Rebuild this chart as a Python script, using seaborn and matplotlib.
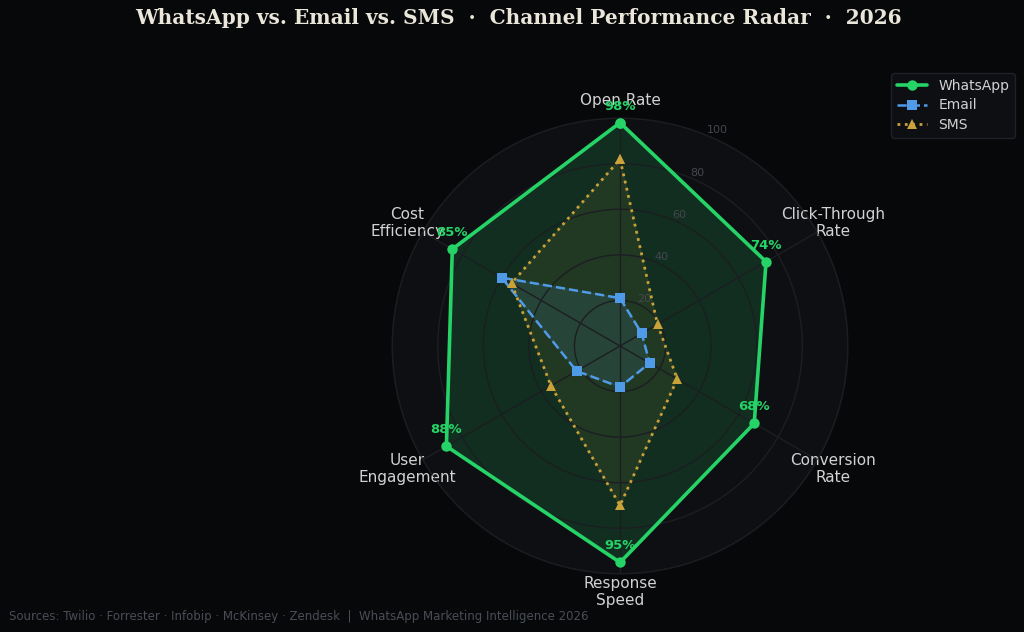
import numpy as np
import seaborn as sns
import matplotlib.pyplot as plt

# channel metrics (0-100 scale)
metrics = ["Open Rate", "Click-Through\nRate", "Conversion\nRate",
           "Response\nSpeed", "User\nEngagement", "Cost\nEfficiency"]
whatsapp = [98, 74, 68, 95, 88, 85]
email = [21, 11, 15, 18, 22, 60]
sms = [82, 19, 29, 70, 35, 55]
rticks = [20, 40, 60, 80, 100]

BG = "#07080a"
PANEL = "#0e0f13"
GRID = "#1c1e22"
TXT = "#d2d2d2"

sns.set_theme(style="dark", rc={
    "figure.facecolor": BG,
    "axes.facecolor": PANEL,
    "text.color": TXT,
    "axes.labelcolor": TXT,
    "xtick.color": TXT,
    "ytick.color": "#44474f",
})
plt.rcParams["font.family"] = ["DejaVu Sans"]

fig = plt.figure(figsize=(10.24, 6.32), dpi=100)
ax = fig.add_axes([0.383, 0.0918, 0.445, 0.7215], projection="polar")
ax.set_theta_offset(np.pi / 2)
ax.set_theta_direction(-1)
ax.set_axisbelow(False)

angles = np.linspace(0, 2 * np.pi, len(metrics), endpoint=False)
closed = np.append(angles, angles[0] + 2 * np.pi)

series = [
    ("WhatsApp", whatsapp, "#25d366", "-", "o", 2.6, 0.16),
    ("Email", email, "#4f9be8", "--", "s", 1.8, 0.12),
    ("SMS", sms, "#c9a23a", ":", "^", 2.0, 0.09),
]

for name, vals, col, ls, mk, lw, a in series:
    v = np.append(vals, vals[0])
    ax.fill(closed, v, color=col, alpha=a, zorder=2)
    sns.lineplot(x=closed, y=v, ax=ax, sort=False, color=col, linestyle=ls,
                 linewidth=lw, marker=mk, markersize=7.5, markeredgewidth=0,
                 label=name, zorder=3)

# value labels for the lead channel
for ang, val in zip(angles, whatsapp):
    ax.annotate(f"{val}%", xy=(ang, val), xytext=(0, 12), textcoords="offset points",
                ha="center", va="center", color="#25d366", fontsize=9.5,
                fontweight="bold", zorder=5)

ax.set_ylim(0, 100)
ax.set_yticks(rticks)
ax.set_yticklabels([str(t) for t in rticks], fontsize=8, color="#44474f")
ax.set_rlabel_position(22.5)
ax.set_xticks(angles)
ax.set_xticklabels(metrics, fontsize=11, color=TXT)
ax.tick_params(axis="x", pad=0)
ax.set_xlabel("")
ax.set_ylabel("")
ax.grid(True, color=GRID, linewidth=1.0)
ax.spines["polar"].set_color("#1a1c20")
ax.spines["polar"].set_linewidth(1.0)

leg = fig.legend(*ax.get_legend_handles_labels(), loc="upper right",
                 bbox_to_anchor=(0.998, 0.895), fontsize=10, frameon=True,
                 facecolor="#101216", edgecolor="#24272d", labelcolor=TXT,
                 handlelength=2.2, labelspacing=0.4)
if ax.get_legend() is not None:
    ax.get_legend().remove()

fig.text(0.506, 0.972, "WhatsApp vs. Email vs. SMS  \u00b7  Channel Performance Radar  \u00b7  2026",
         ha="center", va="center", fontsize=14.5, fontweight="bold",
         family="DejaVu Serif", color="#ebe6da")
fig.text(0.009, 0.024,
         "Sources: Twilio \u00b7 Forrester \u00b7 Infobip \u00b7 McKinsey \u00b7 Zendesk  |  WhatsApp Marketing Intelligence 2026",
         ha="left", va="center", fontsize=8.5, color="#4a4d55")

fig.savefig("out.png", dpi=100, facecolor=BG)
